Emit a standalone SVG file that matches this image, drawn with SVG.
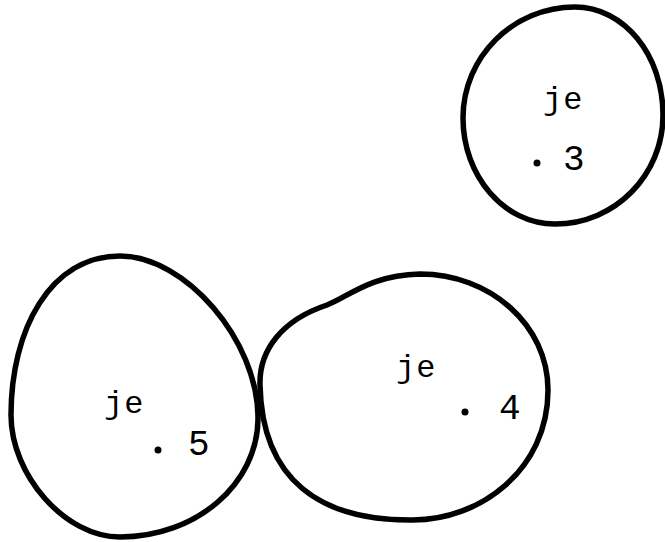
<svg xmlns="http://www.w3.org/2000/svg" width="665" height="542" viewBox="0 0 665 542">
<style>
.blob{fill:none;stroke:#000;stroke-width:5.5;stroke-linejoin:round}
.lbl{font-family:"Liberation Mono","DejaVu Sans Mono",monospace;font-size:32px;letter-spacing:1px;fill:#000}
.num{font-family:"Liberation Mono","DejaVu Sans Mono",monospace;font-size:36px;fill:#000}
.dot{fill:#000}
</style>
<rect width="665" height="542" fill="#fff"/>
<g id="node3">
<path class="blob" d="M575,7 C624,7 663,55 663,115 C663,175 615,224 555,224 C504,224 463,176 463,118 C463,57 513,7 575,7 Z"/>
<text class="lbl" x="543" y="109">je</text>
<circle class="dot" cx="537" cy="163" r="3.5"/>
<text class="num" x="563" y="170">3</text>
</g>
<g id="node4">
<path class="blob" d="M420,274 C490,274 548,325 548,390 C548,470 480,520 413,520 C320,521 262,480 260,385 C259,350 282,320 327,305 C348,297 370,275 420,274 Z"/>
<text class="lbl" x="396" y="377">je</text>
<circle class="dot" cx="465" cy="412" r="3.5"/>
<text class="num" x="499" y="419">4</text>
</g>
<g id="node5">
<path class="blob" d="M120,256 C185,256 258,340 258,418 C258,484 196,537 120,537 C65,537 11,475 11,415 C11,330 50,256 120,256 Z"/>
<text class="lbl" x="104" y="413">je</text>
<circle class="dot" cx="158" cy="450" r="3.5"/>
<text class="num" x="188" y="455">5</text>
</g>
<g id="connectors"></g>
</svg>
